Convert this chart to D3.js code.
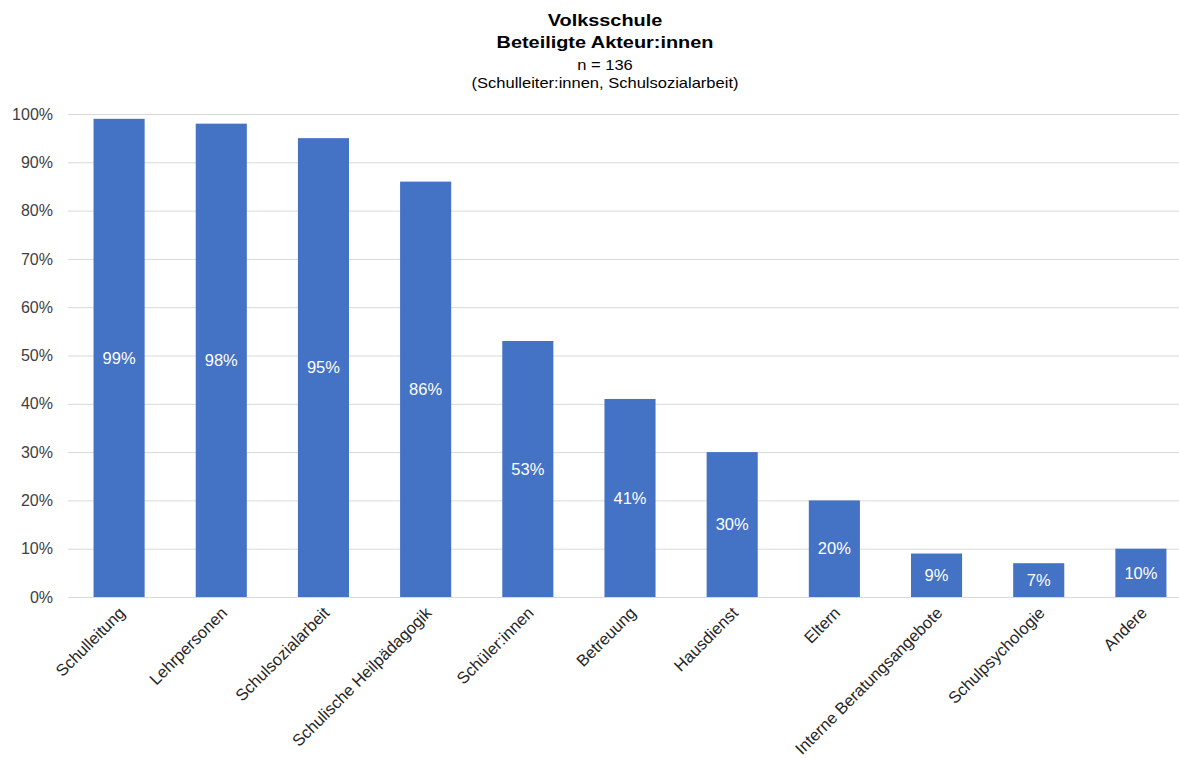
<!DOCTYPE html>
<html>
<head>
<meta charset="utf-8">
<script src="https://cdn.jsdelivr.net/npm/d3@7"></script>
<style>
  body { margin: 0; background: #fff; }
  svg { font-family: "Liberation Sans", Arial, sans-serif; }
</style>
</head>
<body>
<div id="chart"></div>
<script>
// Chart data
const categories = ["Schulleitung", "Lehrpersonen", "Schulsozialarbeit", "Schulische Heilpädagogik",
  "Schüler:innen", "Betreuung", "Hausdienst", "Eltern", "Interne Beratungsangebote",
  "Schulpsychologie", "Andere"];
const values = [99, 98, 95, 86, 53, 41, 30, 20, 9, 7, 10];
const yTicks = [0, 10, 20, 30, 40, 50, 60, 70, 80, 90, 100];
const titleLines = ["Volksschule", "Beteiligte Akteur:innen"];
const subLines = ["n = 136", "(Schulleiter:innen, Schulsozialarbeit)"];

const width = 1179, height = 758;
const margin = { top: 114, right: -13, bottom: 161, left: 68 };

const svg = d3.select("#chart").append("svg")
    .attr("width", width)
    .attr("height", height);

const x = d3.scaleBand()
    .domain(categories)
    .range([margin.left, width - margin.right])
    .paddingInner(0.5)
    .paddingOuter(0.25);

const y = d3.scaleLinear()
    .domain([0, 100])
    .range([height - margin.bottom, margin.top]);

// Gridlines
svg.append("g")
    .selectAll("line")
    .data(yTicks)
    .join("line")
    .attr("x1", margin.left)
    .attr("x2", width)
    .attr("y1", d => y(d) + 0.5)
    .attr("y2", d => y(d) + 0.5)
    .attr("stroke", "#d9d9d9")
    .attr("stroke-width", 1);

// Y tick labels
svg.append("g")
    .selectAll("text")
    .data(yTicks)
    .join("text")
    .attr("x", 53)
    .attr("y", d => y(d))
    .attr("dy", "0.35em")
    .attr("text-anchor", "end")
    .attr("font-size", "16px")
    .attr("fill", "#404040")
    .text(d => d + "%");

// Bars
svg.append("g")
    .selectAll("rect")
    .data(values)
    .join("rect")
    .attr("x", (d, i) => x(categories[i]))
    .attr("width", x.bandwidth())
    .attr("y", d => y(d))
    .attr("height", d => y(0) - y(d))
    .attr("fill", "#4472c4");

// Value labels in the middle of each bar
svg.append("g")
    .selectAll("text")
    .data(values)
    .join("text")
    .attr("x", (d, i) => x(categories[i]) + x.bandwidth() / 2)
    .attr("y", d => (y(d) + y(0)) / 2)
    .attr("dy", "0.35em")
    .attr("text-anchor", "middle")
    .attr("font-size", "16.5px")
    .attr("fill", "#ffffff")
    .text(d => d + "%");

// Rotated category labels
svg.append("g")
    .selectAll("text")
    .data(categories)
    .join("text")
    .attr("transform", d => `translate(${x(d) + x.bandwidth() / 2 + 7},${y(0) + 17}) rotate(-45)`)
    .attr("text-anchor", "end")
    .attr("font-size", "16.5px")
    .attr("fill", "#262626")
    .text(d => d);

// Titles (the reference text is slightly stretched horizontally)
const cx = 605;
svg.append("g")
    .attr("transform", `translate(${cx},0) scale(1.17,1)`)
    .selectAll("text")
    .data(titleLines)
    .join("text")
    .attr("x", 0)
    .attr("y", (d, i) => 26 + i * 22)
    .attr("text-anchor", "middle")
    .attr("font-size", "17px")
    .attr("font-weight", "bold")
    .attr("fill", "#000")
    .text(d => d);

svg.append("g")
    .attr("transform", `translate(${cx},0) scale(1.18,1)`)
    .selectAll("text")
    .data(subLines)
    .join("text")
    .attr("x", 0)
    .attr("y", (d, i) => 70 + i * 18)
    .attr("text-anchor", "middle")
    .attr("font-size", "14px")
    .attr("fill", "#000")
    .text(d => d);
</script>
</body>
</html>
